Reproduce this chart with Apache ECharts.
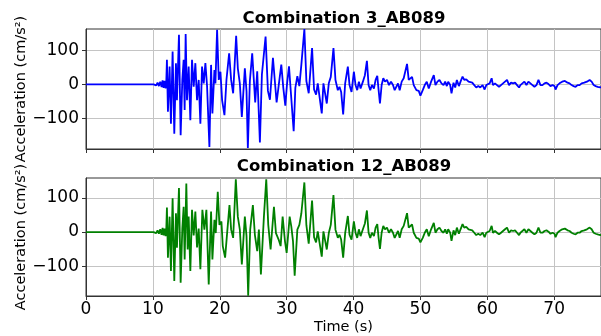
<!DOCTYPE html>
<html>
<head>
<meta charset="utf-8">
<script src="https://cdn.jsdelivr.net/npm/echarts@6/dist/echarts.min.js"></script>
<style>html,body{margin:0;padding:0;background:#fff}#c{width:601px;height:336px}</style>
</head>
<body>
<div id="c"></div>
<script>
// ---- data ----
const titles = ["Combination 3_AB089", "Combination 12_AB089"];
const xTicks = [0, 10, 20, 30, 40, 50, 60, 70];
const yTicks = [-100, 0, 100];

const timeA = [0,10.1,10.3,10.5,10.7,10.9,11.1,11.3,11.45,11.6,11.75,11.9,12.0,
12.1,12.25,12.5,12.7,12.95,13.2,13.45,13.6,13.9,14.15,14.4,14.6,14.75,14.9,15.1,15.35,15.6,15.85,16.1,16.35,16.6,16.85,17.1,17.35,17.6,17.85,18.1,18.45,18.7,18.9,19.2,19.35,19.6,19.85,20.1,20.35,20.7,21.0,21.4,21.7,22.0,22.45,22.7,23.0,23.3,23.75,24.0,24.2,24.5,24.85,25.3,25.6,26.0,26.3,26.85,27.2,27.5,27.95,28.5,28.8,29.2,29.5,29.8,30.05,30.35,30.65,31.05,31.3,31.6,31.9,32.2,32.65,32.95,33.3,33.8,34.1,34.4,34.65,34.9,35.25,35.5,35.75,36.0,36.3,36.6,37.0,37.3,37.65,37.9,38.15,38.45,38.75,39.15,39.4,39.7,40.05,40.3,40.55,40.8,41.05,41.4,41.7,42.0,42.25,42.5,42.75,43.05,43.3,43.55,43.75,43.95,44.2,44.45,44.7,45.0,45.3,45.6,45.9,46.15,46.4,46.65,46.9,47.2,47.5,47.75,48.0,48.25,48.5,48.75,49.0,49.4,49.75,50.0,50.35,50.65,50.95,51.25,51.6,52.0,52.25,52.55,52.85,53.15,53.45,53.7,53.95,54.15,54.45,54.65,54.95,55.2,55.45,55.75,56.0,56.3,56.55,56.85,57.2,57.45,57.75,58.05,58.35,58.65,58.95,59.3,59.6,59.85,60.1,60.35,60.65,60.85,61.15,61.45,61.75,62.05,62.35,62.65,62.95,63.25,63.55,63.85,64.15,64.45,64.75,64.95,65.25,65.55,65.85,66.15,66.45,66.75,67.05,67.35,67.65,67.95,68.25,68.55,68.85,69.15,69.45,69.75,70.05,70.2,70.5,70.8,71.2,71.6,72.0,72.3,72.6,72.9,73.2,73.5,73.8,74.1,74.5,74.9,75.3,75.6,75.9,76.2,76.5,76.9,77.5];
const accA = [0,0,3,-3,5,-5,8,-8,12,-10,10,-12,5,
72,-80,52,-115,96,-144,62,-46,145,-149,13,72,-75,147,-46,52,-105,72,-7,62,-46,13,-115,52,3,62,-5,-183,57,-85,42,3,160,13,37,-46,-90,13,91,13,-26,142,47,3,-95,47,-20,-186,10,91,-53,38,-170,29,140,-19,-45,78,-53,-5,58,-10,-62,0,53,-29,-137,-10,24,-5,58,162,10,-26,106,-15,-30,3,8,-85,3,8,-56,3,22,106,13,-17,-7,-22,-88,3,52,-2,-22,37,-2,-17,8,-12,8,27,69,-2,-17,-2,-12,13,25,-17,-56,-2,18,8,13,-2,8,-2,-17,-22,3,-17,8,18,13,60,13,13,22,-2,-17,-19,-33,-17,-2,8,-12,8,27,-2,8,13,3,-2,8,-5,8,-2,-26,5,-9,13,-5,8,23,13,15,8,3,5,-2,-9,-5,-9,-2,-15,-2,-5,3,18,-2,3,-2,-7,-2,3,8,13,-2,5,3,5,-2,-9,-2,3,8,-2,8,3,-2,-7,-2,13,-2,-2,3,5,1,-5,-2,-5,-15,-2,3,8,10,5,3,-2,-5,-7,-2,-2,3,5,8,13,8,-2,-5,-7,-9,-5];

const timeB = [0,10.1,10.3,10.5,10.7,10.9,11.1,11.3,11.45,11.6,11.75,11.9,12.0,
12.1,12.25,12.5,12.7,12.95,13.2,13.45,13.6,13.9,14.15,14.4,14.6,14.75,15.0,15.2,15.35,15.6,15.85,16.1,16.35,16.6,16.85,17.1,17.4,17.7,18.0,18.35,18.7,18.9,19.2,19.4,19.7,19.95,20.25,20.45,20.8,21.1,21.45,21.7,22.0,22.4,22.7,23.0,23.3,23.75,24.0,24.25,24.55,24.95,25.25,25.6,25.85,26.15,26.6,26.95,27.25,27.6,28.1,28.4,28.8,29.1,29.4,29.75,30.0,30.45,30.7,30.95,31.2,31.6,31.9,32.2,32.65,32.95,33.3,33.8,34.1,34.4,34.65,34.9,35.25,35.5,35.75,36.0,36.3,36.6,37.0,37.3,37.65,37.9,38.15,38.45,38.75,39.15,39.4,39.7,40.05,40.3,40.55,40.8,41.05,41.4,41.7,42.0,42.25,42.5,42.75,43.05,43.3,43.55,43.75,43.95,44.2,44.45,44.7,45.0,45.3,45.6,45.9,46.15,46.4,46.65,46.9,47.2,47.5,47.75,48.0,48.25,48.5,48.75,49.0,49.4,49.75,50.0,50.35,50.65,50.95,51.25,51.6,52.0,52.25,52.55,52.85,53.15,53.45,53.7,53.95,54.15,54.45,54.65,54.95,55.2,55.45,55.75,56.0,56.3,56.55,56.85,57.2,57.45,57.75,58.05,58.35,58.65,58.95,59.3,59.6,59.85,60.1,60.35,60.65,60.85,61.15,61.45,61.75,62.05,62.35,62.65,62.95,63.25,63.55,63.85,64.15,64.45,64.75,64.95,65.25,65.55,65.85,66.15,66.45,66.75,67.05,67.35,67.65,67.95,68.25,68.55,68.85,69.15,69.45,69.75,70.05,70.2,70.5,70.8,71.2,71.6,72.0,72.3,72.6,72.9,73.2,73.5,73.8,74.1,74.5,74.9,75.3,75.6,75.9,76.2,76.5,76.9,77.5];
const accB = [0,0,3,-3,5,-5,8,-8,12,-10,10,-12,5,
72,-75,45,-114,99,-143,55,-46,129,-148,10,74,-80,142,-51,45,-114,65,-10,60,-45,10,-109,65,7,65,-153,60,-80,36,-3,118,21,31,-41,-75,-3,79,7,-17,154,45,7,-95,45,-12,-186,7,79,-8,-56,7,-124,45,154,21,-51,74,-3,-22,-41,45,-27,-61,45,16,-27,-128,7,21,55,145,20,-34,92,-15,-30,2,2,-72,2,2,-51,-3,21,108,7,-17,-8,-22,-75,-3,47,-8,-22,31,-2,-17,8,-12,8,25,63,-2,-17,-2,-12,13,23,-17,-49,-2,18,8,13,-2,8,-2,-17,-22,3,-17,8,18,13,55,13,13,22,-2,-17,-19,-30,-17,-2,8,-12,8,27,-2,8,13,3,-2,8,-5,8,-2,-26,5,-9,13,-5,8,23,13,15,8,3,5,-2,-9,-5,-9,-2,-15,-2,-5,3,18,-2,3,-2,-7,-2,3,8,13,-2,5,3,5,-2,-9,-2,3,8,-2,8,3,-2,-7,-2,13,-2,-2,3,5,1,-5,-2,-5,-15,-2,3,8,10,5,3,-2,-5,-7,-2,-2,3,5,8,13,8,-2,-5,-7,-9,-5];

// ---- chart ----
const FONT = "DejaVu Sans";
const pairs = (t, v) => t.map((x, i) => [x, v[i]]);
const minusFmt = v => String(v).replace('-', '\u2212');

function xAxis(gi, showLabels) {
  return {
    type: 'value', gridIndex: gi, min: 0, max: 77, interval: 10,
    axisLine: { show: true, onZero: false, lineStyle: { color: '#333', width: 1 } },
    axisTick: { show: true, length: 4, lineStyle: { color: '#333' } },
    axisLabel: { show: showLabels, margin: 5, fontFamily: FONT, fontSize: 17, color: '#000',
      customValues: xTicks },
    splitLine: { show: true, lineStyle: { color: '#c4c4c4', width: 1 } },
    name: showLabels ? 'Time (s)' : '', nameLocation: 'middle', nameGap: 24, nameMoveOverlap: false,
    nameTextStyle: { fontFamily: FONT, fontSize: 14.5, color: '#000' }
  };
}
function yAxis(gi, mn, mx) {
  return {
    type: 'value', gridIndex: gi, min: mn, max: mx,
    axisLine: { show: true, lineStyle: { color: '#333', width: 1 } },
    axisTick: { show: true, length: 4, lineStyle: { color: '#333' }, customValues: yTicks },
    axisLabel: { margin: 7, fontFamily: FONT, fontSize: 17, color: '#000', customValues: yTicks, formatter: minusFmt },
    splitLine: { show: true, lineStyle: { color: '#c4c4c4', width: 1 } },
    name: 'Acceleration (cm/s\u00b2)', nameLocation: 'middle', nameRotate: 90, nameGap: 57, nameMoveOverlap: false,
    nameTextStyle: { fontFamily: FONT, fontSize: 14.5, color: '#000' }
  };
}

const chart = echarts.init(document.getElementById('c'), null, { renderer: 'canvas' });
chart.setOption({
  animation: false,
  backgroundColor: '#fff',
  title: [
    { text: titles[0], left: 344, top: 10, textAlign: 'center', padding: 0,
      textStyle: { fontFamily: FONT, fontSize: 16.5, fontWeight: 'bold', color: '#000' } },
    { text: titles[1], left: 344, top: 158, textAlign: 'center', padding: 0,
      textStyle: { fontFamily: FONT, fontSize: 16.5, fontWeight: 'bold', color: '#000' } }
  ],
  grid: [
    { left: 86, top: 29, width: 520, height: 120, show: true, borderColor: '#333', borderWidth: 1, backgroundColor: 'transparent' },
    { left: 86, top: 178, width: 520, height: 119, show: true, borderColor: '#333', borderWidth: 1, backgroundColor: 'transparent' }
  ],
  xAxis: [xAxis(0, false), xAxis(1, true)],
  yAxis: [yAxis(0, -189, 162), yAxis(1, -187, 158)],
  series: [
    { type: 'line', xAxisIndex: 0, yAxisIndex: 0, data: pairs(timeA, accA), showSymbol: false,
      lineStyle: { color: '#0000ff', width: 1.8 }, itemStyle: { color: '#0000ff' }, clip: true },
    { type: 'line', xAxisIndex: 1, yAxisIndex: 1, data: pairs(timeB, accB), showSymbol: false,
      lineStyle: { color: '#008000', width: 1.8 }, itemStyle: { color: '#008000' }, clip: true }
  ]
});
</script>
</body>
</html>
